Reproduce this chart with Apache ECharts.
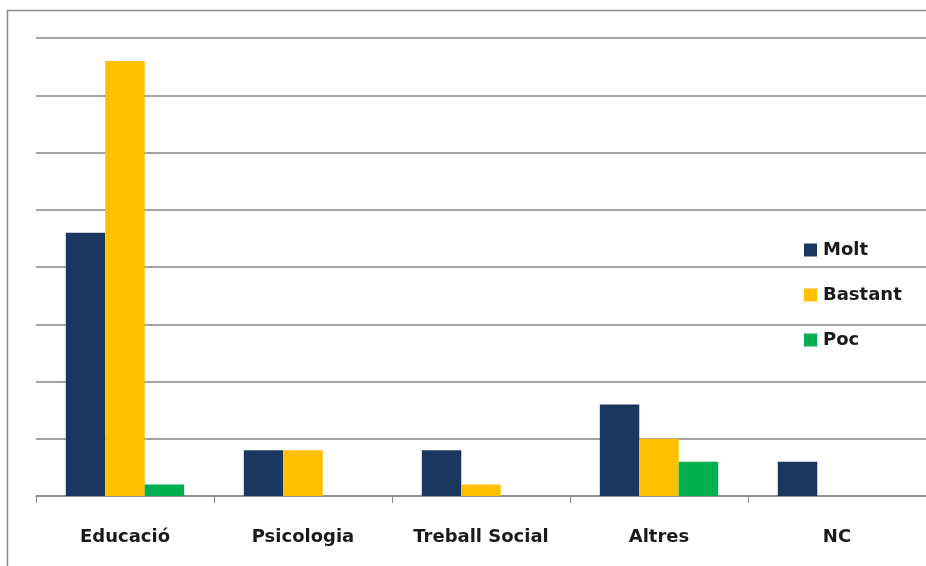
<!DOCTYPE html>
<html>
<head>
<meta charset="utf-8">
<script src="https://cdn.jsdelivr.net/npm/echarts@6/dist/echarts.min.js"></script>
<style>
  html, body { margin: 0; padding: 0; background: #fff; }
  #chart { width: 926px; height: 566px; }
</style>
</head>
<body>
<div id="chart"></div>
<script>
// Response counts per field of study
const categories = ['Educació', 'Psicologia', 'Treball Social', 'Altres', 'NC'];
const molt = [23, 4, 4, 8, 3];
const bastant = [38, 4, 1, 5, 0];
const poc = [1, 0, 0, 3, 0];
const seriesNames = ['Molt', 'Bastant', 'Poc'];
const seriesColors = ['#1B365F', '#FFC000', '#00B050'];

const labelFont = '"DejaVu Sans", sans-serif';

const chart = echarts.init(document.getElementById('chart'), null, { renderer: 'canvas' });

chart.setOption({
  animation: false,
  backgroundColor: '#ffffff',
  graphic: [{
    type: 'rect',
    shape: { x: 7.5, y: 10.5, width: 940, height: 580 },
    style: { fill: 'none', stroke: '#8a8a8a', lineWidth: 1.5 },
    silent: true,
    z: -1
  }],
  grid: { left: 36, right: -8, top: 38, bottom: 70, containLabel: false },
  legend: {
    orient: 'vertical',
    left: 799,
    top: 236,
    itemWidth: 13,
    itemHeight: 13,
    itemGap: 27,
    icon: 'rect',
    data: seriesNames,
    textStyle: { fontFamily: labelFont, fontSize: 18, fontWeight: 'bold', color: '#1a1a1a', padding: [0, 0, 0, 1] }
  },
  xAxis: {
    type: 'category',
    data: categories,
    axisLine: { lineStyle: { color: '#868686', width: 1.5 } },
    axisTick: { show: true, length: 7, lineStyle: { color: '#868686' } },
    axisLabel: { margin: 32, fontFamily: labelFont, fontSize: 18, fontWeight: 'bold', color: '#1a1a1a' }
  },
  yAxis: {
    type: 'value',
    min: 0, max: 40, interval: 5,
    axisLine: { show: false },
    axisTick: { show: false },
    axisLabel: { show: false },
    splitLine: { lineStyle: { color: '#868686', width: 1.5 } }
  },
  series: [
    { name: seriesNames[0], type: 'bar', data: molt, itemStyle: { color: seriesColors[0] }, barGap: '0%', barCategoryGap: '33.5%' },
    { name: seriesNames[1], type: 'bar', data: bastant, itemStyle: { color: seriesColors[1] }, barGap: '0%', barCategoryGap: '33.5%' },
    { name: seriesNames[2], type: 'bar', data: poc, itemStyle: { color: seriesColors[2] }, barGap: '0%', barCategoryGap: '33.5%' }
  ]
});
</script>
</body>
</html>
